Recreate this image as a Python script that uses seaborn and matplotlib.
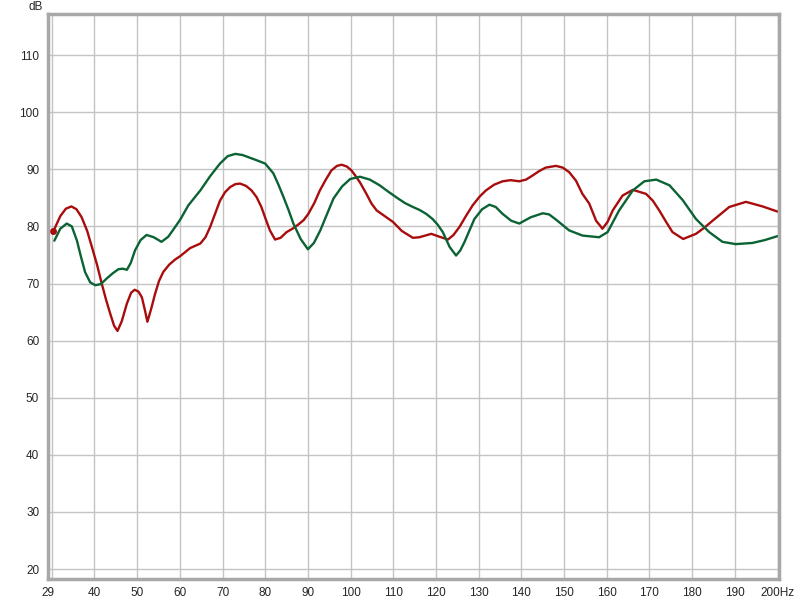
import pandas as pd
import matplotlib
matplotlib.use("Agg")
import matplotlib.pyplot as plt
import seaborn as sns

# frequency response readings (Hz, dB)
red_hz = [30.4, 32.0, 33.3, 34.6, 35.8, 37.0, 38.3, 39.4, 40.6, 41.7, 42.7, 43.7, 44.6,
          45.4, 46.4, 47.6, 48.6, 49.4, 50.3, 51.1, 51.8, 52.4, 53.3, 54.2, 55.1, 56.1,
          57.5, 58.9, 60.1, 62.4, 64.8, 66.0, 67.1, 68.3, 69.4, 70.6, 71.8, 73.0, 74.1,
          75.5, 76.8, 78.0, 79.1, 80.1, 81.1, 82.3, 83.6, 85.0, 86.4, 87.7, 89.0, 90.1,
          91.5, 92.8, 94.2, 95.5, 96.8, 97.9, 99.1, 100.2, 101.2, 102.2, 103.7, 104.9,
          106.1, 108.0, 109.9, 112.0, 114.6, 116.1, 118.9, 120.8, 122.8, 124.1, 125.5,
          127.0, 128.6, 130.2, 131.7, 133.6, 135.6, 137.5, 139.5, 141.1, 142.6, 144.2,
          145.7, 148.1, 149.7, 151.2, 152.8, 154.3, 155.9, 157.5, 159.0, 160.2, 161.4,
          163.7, 166.1, 169.2, 170.8, 172.3, 173.9, 175.4, 177.9, 180.9, 182.9, 184.8,
          188.7, 192.6, 196.5, 200.0]
red_db = [79.2, 81.8, 83.1, 83.5, 83.0, 81.6, 79.2, 76.4, 73.3, 70.0, 67.2, 64.7, 62.6,
          61.7, 63.4, 66.5, 68.4, 68.9, 68.6, 67.6, 65.4, 63.3, 65.6, 68.2, 70.4, 72.0,
          73.3, 74.2, 74.8, 76.2, 77.0, 78.1, 79.9, 82.3, 84.5, 86.0, 86.9, 87.4, 87.5,
          87.1, 86.3, 85.1, 83.4, 81.3, 79.3, 77.7, 78.0, 79.0, 79.6, 80.3, 81.1, 82.2,
          84.1, 86.3, 88.2, 89.8, 90.6, 90.8, 90.5, 89.8, 88.8, 87.7, 85.7, 84.0, 82.8,
          81.8, 80.8, 79.2, 78.0, 78.1, 78.7, 78.2, 77.7, 78.5, 79.9, 81.8, 83.7, 85.2,
          86.3, 87.3, 87.9, 88.1, 87.9, 88.2, 88.9, 89.7, 90.3, 90.6, 90.3, 89.5, 88.0,
          85.7, 84.0, 81.0, 79.6, 80.8, 82.8, 85.4, 86.4, 85.7, 84.5, 82.8, 80.8, 79.0,
          77.8, 78.7, 79.8, 81.0, 83.4, 84.3, 83.5, 82.6]

green_hz = [30.6, 32.0, 33.5, 34.7, 35.9, 36.8, 37.8, 39.0, 40.2, 41.5, 42.9, 44.3, 45.6,
            46.6, 47.6, 48.5, 49.5, 50.8, 52.2, 53.9, 55.7, 57.3, 58.9, 60.1, 62.0, 64.8,
            67.1, 69.4, 71.2, 73.0, 74.7, 76.5, 78.3, 80.0, 81.9, 83.1, 84.3, 85.5, 86.6,
            88.3, 90.0, 91.4, 92.9, 94.5, 96.0, 98.0, 99.9, 102.2, 104.5, 106.8, 108.8,
            110.7, 112.7, 114.6, 116.1, 117.7, 119.2, 120.4, 121.6, 123.2, 124.7, 125.7,
            126.7, 129.0, 130.8, 132.5, 134.0, 135.6, 137.6, 139.5, 142.2, 145.0, 146.5,
            148.1, 151.2, 154.3, 158.2, 160.2, 162.9, 166.1, 168.8, 171.6, 174.7, 177.8,
            180.9, 184.0, 187.1, 190.2, 194.1, 197.0, 200.0]
green_db = [77.5, 79.6, 80.5, 80.0, 77.5, 74.8, 72.0, 70.2, 69.7, 69.9, 70.9, 71.8, 72.5,
            72.6, 72.4, 73.6, 75.8, 77.6, 78.5, 78.1, 77.3, 78.2, 79.9, 81.2, 83.7, 86.3,
            88.8, 91.0, 92.3, 92.7, 92.5, 92.0, 91.5, 91.0, 89.3, 87.3, 85.1, 82.8, 80.5,
            77.8, 76.0, 77.1, 79.3, 82.2, 84.9, 87.0, 88.3, 88.7, 88.2, 87.2, 86.1, 85.1,
            84.1, 83.4, 82.9, 82.2, 81.3, 80.3, 79.0, 76.4, 74.9, 75.8, 77.3, 81.3, 83.0,
            83.8, 83.4, 82.2, 81.0, 80.5, 81.6, 82.3, 82.1, 81.2, 79.3, 78.4, 78.1, 79.0,
            82.8, 86.3, 87.9, 88.2, 87.2, 84.6, 81.3, 79.0, 77.3, 76.9, 77.1, 77.6, 78.3]

x_ticks = [29, 40, 50, 60, 70, 80, 90, 100, 110, 120, 130, 140, 150, 160, 170, 180, 190, 200]
x_labels = [str(t) for t in x_ticks[:-1]] + ["200Hz"]
x_extra_grid = [30]
y_ticks = [20, 30, 40, 50, 60, 70, 80, 90, 100, 110]

df = pd.concat([
    pd.DataFrame({"Hz": red_hz, "dB": red_db, "trace": "red"}),
    pd.DataFrame({"Hz": green_hz, "dB": green_db, "trace": "green"}),
])

sns.set_style("white")
plt.rcParams["font.family"] = ["Liberation Sans", "DejaVu Sans"]

fig = plt.figure(figsize=(8, 6), dpi=100)
ax = fig.add_axes([47.5 / 800, 1 - 579 / 600, 731.5 / 800, 565 / 600])

sns.lineplot(data=df, x="Hz", y="dB", hue="trace", sort=False, estimator=None,
             palette={"red": "#a80c0c", "green": "#0b6334"}, linewidth=1.7,
             legend=False, ax=ax)
for ln in ax.get_lines():
    ln.set_solid_joinstyle("round")
ax.plot(red_hz[0], red_db[0], "o", color="#a80c0c", markersize=4)

ax.set_xlim(29.0, 200.35)
ax.set_ylim(18.25, 117.2)
ax.set_xticks(x_ticks)
ax.set_xticklabels(x_labels)
ax.set_xticks(x_extra_grid, minor=True)
ax.set_yticks(y_ticks)
ax.grid(True, which="both", color="#c4c4c4", linewidth=1)
ax.tick_params(which="both", length=0, labelsize=8.5, pad=6)
ax.set_xlabel("")
ax.set_ylabel("")
for s in ax.spines.values():
    s.set_color("#a8a8a8")
    s.set_linewidth(2.5)

fig.text(28 / 800, 1 - 7 / 600, "dB", fontsize=8.5, va="center")

fig.savefig("out.png", dpi=100)
